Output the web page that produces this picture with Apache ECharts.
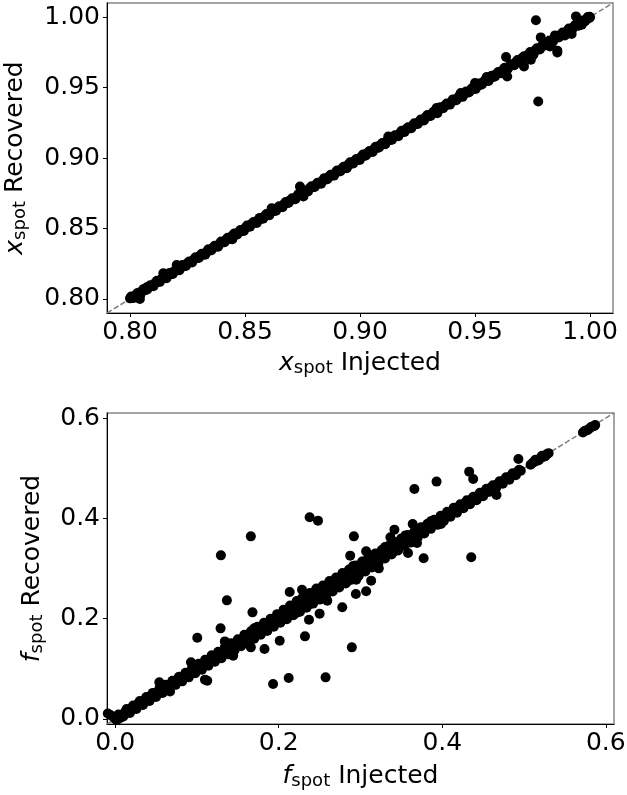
<!DOCTYPE html>
<html>
<head>
<meta charset="utf-8">
<script src="https://cdn.jsdelivr.net/npm/echarts@6/dist/echarts.min.js"></script>
<style>
  html, body { margin: 0; padding: 0; background: #fff; }
  #main { width: 627px; height: 795px; }
</style>
</head>
<body>
<div id="main"></div>
<script>
// x_spot: injected vs recovered (dense band along the 1:1 line)
var xspotBand = [
  [0.8000,0.8004],[0.8011,0.8007],[0.8026,0.8029],[0.8040,0.8036],[0.8053,0.8057],[0.8068,0.8064],
  [0.8081,0.8085],[0.8095,0.8092],[0.8109,0.8112],[0.8124,0.8120],[0.8137,0.8141],[0.8151,0.8148],
  [0.8166,0.8169],[0.8179,0.8176],[0.8193,0.8197],[0.8208,0.8204],[0.8222,0.8225],[0.8235,0.8232],
  [0.8250,0.8254],[0.8264,0.8260],[0.8277,0.8280],[0.8291,0.8288],[0.8306,0.8309],[0.8319,0.8316],
  [0.8334,0.8337],[0.8348,0.8344],[0.8361,0.8365],[0.8375,0.8372],[0.8390,0.8393],[0.8403,0.8400],
  [0.8418,0.8421],[0.8432,0.8428],[0.8445,0.8449],[0.8460,0.8456],[0.8474,0.8477],[0.8487,0.8484],
  [0.8502,0.8505],[0.8516,0.8512],[0.8529,0.8533],[0.8544,0.8540],[0.8558,0.8561],[0.8571,0.8568],
  [0.8586,0.8589],[0.8600,0.8596],[0.8613,0.8617],[0.8628,0.8624],[0.8642,0.8645],[0.8655,0.8652],
  [0.8670,0.8673],[0.8684,0.8680],[0.8697,0.8701],[0.8712,0.8708],[0.8726,0.8729],[0.8739,0.8736],
  [0.8754,0.8757],[0.8768,0.8764],[0.8781,0.8785],[0.8796,0.8792],[0.8810,0.8813],[0.8823,0.8820],
  [0.8838,0.8841],[0.8852,0.8848],[0.8865,0.8869],[0.8880,0.8876],[0.8894,0.8897],[0.8907,0.8904],
  [0.8922,0.8925],[0.8936,0.8932],[0.8949,0.8953],[0.8964,0.8960],[0.8978,0.8981],[0.8991,0.8988],
  [0.9006,0.9009],[0.9020,0.9016],[0.9033,0.9037],[0.9048,0.9044],[0.9062,0.9065],[0.9075,0.9072],
  [0.9090,0.9093],[0.9104,0.9100],[0.9117,0.9121],[0.9132,0.9128],[0.9146,0.9149],[0.9159,0.9156],
  [0.9174,0.9177],[0.9188,0.9184],[0.9201,0.9205],[0.9216,0.9212],[0.9230,0.9233],[0.9243,0.9240],
  [0.9258,0.9261],[0.9272,0.9268],[0.9285,0.9289],[0.9300,0.9296],[0.9314,0.9317],[0.9327,0.9324],
  [0.9342,0.9345],[0.9356,0.9352],[0.9369,0.9373],[0.9384,0.9380],[0.9398,0.9401],[0.9411,0.9408],
  [0.9426,0.9429],[0.9440,0.9436],[0.9453,0.9457],[0.9468,0.9464],[0.9482,0.9485],[0.9495,0.9492],
  [0.9510,0.9513],[0.9524,0.9520],[0.9537,0.9541],[0.9552,0.9548],[0.9566,0.9569],[0.9579,0.9575],
  [0.9594,0.9597],[0.9608,0.9603],[0.9621,0.9625],[0.9636,0.9631],[0.9650,0.9653],[0.9663,0.9659],
  [0.9678,0.9681],[0.9692,0.9687],[0.9705,0.9709],[0.9720,0.9715],[0.9734,0.9737],[0.9747,0.9742],
  [0.9762,0.9765],[0.9776,0.9771],[0.9789,0.9793],[0.9804,0.9799],[0.9818,0.9821],[0.9831,0.9826],
  [0.9846,0.9849],[0.9860,0.9855],[0.9873,0.9877],[0.9888,0.9883],[0.9902,0.9905],[0.9915,0.9911],
  [0.9930,0.9933],[0.9944,0.9940],[0.9957,0.9961],[0.9972,0.9968],[0.9986,0.9989],[0.9995,0.9992],
  [1.0000,0.9998]
];
var xspotBand2 = [
  [0.8005,0.8017],[0.8019,0.8008],[0.8033,0.8042],[0.8046,0.8033],[0.8060,0.8071],[0.8075,0.8067],
  [0.8088,0.8097],[0.8102,0.8090],[0.8117,0.8129],[0.8130,0.8121],[0.8144,0.8153],[0.8159,0.8146],
  [0.8172,0.8183],[0.8186,0.8177],[0.8201,0.8210],[0.8215,0.8203],[0.8228,0.8240],[0.8243,0.8234],
  [0.8257,0.8266],[0.8270,0.8258],[0.8285,0.8296],[0.8299,0.8290],[0.8312,0.8321],[0.8327,0.8314],
  [0.8341,0.8352],[0.8354,0.8346],[0.8369,0.8378],[0.8383,0.8371],[0.8396,0.8408],[0.8411,0.8402],
  [0.8425,0.8434],[0.8438,0.8426],[0.8453,0.8464],[0.8467,0.8458],[0.8480,0.8489],[0.8495,0.8482],
  [0.8509,0.8521],[0.8522,0.8513],[0.8537,0.8546],[0.8551,0.8539],[0.8564,0.8575],[0.8579,0.8570],
  [0.8593,0.8602],[0.8606,0.8594],[0.8621,0.8633],[0.8635,0.8626],[0.8648,0.8657],[0.8663,0.8650],
  [0.8677,0.8688],[0.8690,0.8682],[0.8705,0.8714],[0.8719,0.8707],[0.8732,0.8744],[0.8747,0.8738],
  [0.8761,0.8770],[0.8774,0.8762],[0.8789,0.8800],[0.8803,0.8794],[0.8816,0.8825],[0.8831,0.8818],
  [0.8845,0.8857],[0.8858,0.8849],[0.8873,0.8882],[0.8887,0.8875],[0.8900,0.8911],[0.8915,0.8906],
  [0.8929,0.8938],[0.8942,0.8930],[0.8957,0.8969],[0.8971,0.8962],[0.8984,0.8993],[0.8999,0.8986],
  [0.9013,0.9024],[0.9026,0.9018],[0.9041,0.9050],[0.9055,0.9043],[0.9068,0.9080],[0.9083,0.9074],
  [0.9097,0.9106],[0.9110,0.9098],[0.9125,0.9136],[0.9139,0.9130],[0.9152,0.9161],[0.9167,0.9154],
  [0.9181,0.9193],[0.9194,0.9185],[0.9209,0.9218],[0.9223,0.9211],[0.9236,0.9247],[0.9251,0.9242],
  [0.9265,0.9274],[0.9278,0.9266],[0.9293,0.9305],[0.9307,0.9298],[0.9320,0.9329],[0.9335,0.9322],
  [0.9349,0.9360],[0.9362,0.9354],[0.9377,0.9386],[0.9391,0.9379],[0.9404,0.9416],[0.9419,0.9410],
  [0.9433,0.9442],[0.9446,0.9434],[0.9461,0.9472],[0.9475,0.9466],[0.9488,0.9497],[0.9503,0.9490],
  [0.9517,0.9529],[0.9530,0.9521],[0.9545,0.9554],[0.9559,0.9547],[0.9572,0.9583],[0.9587,0.9578],
  [0.9601,0.9610],[0.9614,0.9602],[0.9629,0.9641],[0.9643,0.9634],[0.9656,0.9665],[0.9671,0.9658],
  [0.9685,0.9696],[0.9698,0.9690],[0.9713,0.9722],[0.9727,0.9715],[0.9740,0.9752],[0.9755,0.9746],
  [0.9769,0.9778],[0.9782,0.9770],[0.9797,0.9808],[0.9811,0.9802],[0.9824,0.9833],[0.9839,0.9826],
  [0.9853,0.9865],[0.9866,0.9857],[0.9881,0.9890],[0.9895,0.9883],[0.9908,0.9919],[0.9923,0.9914],
  [0.9937,0.9946],[0.9950,0.9938],[0.9965,0.9976],[0.9979,0.9970],[0.9992,1.0000]
];
var xspotOutliers = [
  [0.9765,0.9977],[0.9775,0.9401],[0.9786,0.9856],[0.9635,0.9717],[0.9640,0.9579],[0.9713,0.9650],
  [0.9858,0.9749],[0.9858,0.9762],[0.9826,0.9792],[0.9939,1.0005],[0.9990,0.9999],[0.9998,1.0003],
  [0.9964,0.9946],[0.9920,0.9880],[0.9891,0.9870],[0.9848,0.9870],[0.9754,0.9733],[0.9743,0.9697],
  [0.9551,0.9575],[0.9500,0.9532],[0.9438,0.9461],[0.9333,0.9354],[0.9336,0.9318],[0.9123,0.9153],
  [0.8739,0.8798],[0.8754,0.8727],[0.8942,0.8928],[0.8616,0.8644],[0.8445,0.8424],[0.8203,0.8241],
  [0.8217,0.8223],[0.8145,0.8182],[0.8043,0.8000],[0.8073,0.8083]
];

// f_spot: injected vs recovered
var fspotBand = [
  [-0.009,0.011],[-0.006,0.008],[-0.003,0.005],[0.000,0.000],[0.002,-0.002],[0.005,0.001],[0.008,0.004],
  [0.012,0.014],[0.016,0.013],[0.020,0.022],[0.024,0.021],[0.028,0.031],[0.032,0.029],[0.036,0.038],
  [0.040,0.037],[0.044,0.047],[0.048,0.045],[0.052,0.054],[0.056,0.053],[0.060,0.063],[0.064,0.061],
  [0.068,0.070],[0.072,0.069],[0.076,0.079],[0.080,0.077],[0.084,0.086],[0.088,0.085],[0.092,0.095],
  [0.096,0.093],[0.100,0.103],[0.104,0.100],[0.108,0.111],[0.112,0.109],[0.116,0.119],[0.120,0.116],
  [0.124,0.127],[0.128,0.124],[0.132,0.136],[0.136,0.133],[0.140,0.144],[0.144,0.140],[0.148,0.151],
  [0.152,0.148],[0.156,0.160],[0.160,0.156],[0.164,0.168],[0.168,0.163],[0.172,0.176],[0.176,0.172],
  [0.180,0.185],[0.184,0.180],[0.188,0.192],[0.192,0.187],[0.196,0.201],[0.200,0.195],[0.204,0.209],
  [0.208,0.203],[0.212,0.217],[0.216,0.211],[0.220,0.226],[0.224,0.219],[0.228,0.234],[0.232,0.226],
  [0.236,0.242],[0.240,0.234],[0.244,0.250],[0.248,0.242],[0.252,0.258],[0.256,0.250],[0.260,0.266],
  [0.264,0.258],[0.268,0.274],[0.272,0.266],[0.276,0.281],[0.280,0.274],[0.284,0.290],[0.288,0.282],
  [0.292,0.298],[0.296,0.290],[0.300,0.305],[0.304,0.298],[0.308,0.313],[0.312,0.306],[0.316,0.321],
  [0.320,0.315],[0.324,0.328],[0.328,0.323],[0.332,0.337],[0.336,0.331],[0.340,0.344],[0.344,0.339],
  [0.348,0.352],[0.352,0.348],[0.356,0.360],[0.360,0.356],[0.364,0.368],[0.368,0.364],[0.372,0.375],
  [0.376,0.373],[0.380,0.384],[0.384,0.381],[0.388,0.391],[0.392,0.389],[0.396,0.399],[0.400,0.397],
  [0.404,0.407],[0.408,0.405],[0.412,0.415],[0.416,0.413],[0.420,0.423],[0.424,0.421],[0.428,0.431],
  [0.432,0.429],[0.436,0.438],[0.440,0.437],[0.444,0.446],[0.448,0.445],[0.452,0.454],[0.456,0.453],
  [0.460,0.462],[0.464,0.461],[0.468,0.469],[0.472,0.471],[0.476,0.477],[0.480,0.479],[0.484,0.485],
  [0.488,0.487],[0.492,0.493],[0.496,0.495],[0.508,0.507],[0.512,0.512],[0.516,0.515],[0.520,0.520],
  [0.524,0.523],[0.528,0.528],[0.572,0.571],[0.576,0.575],[0.580,0.579],[0.584,0.583],[0.587,0.586],
  [0.170,0.181],[0.186,0.176],[0.205,0.198],[0.214,0.225],[0.222,0.212],[0.228,0.240],[0.238,0.229],
  [0.246,0.260],[0.253,0.246],[0.262,0.272],[0.270,0.262],[0.278,0.289],[0.286,0.276],[0.291,0.305],
  [0.297,0.284],[0.304,0.314],[0.318,0.309],[0.330,0.343],[0.340,0.333],[0.355,0.366],[0.362,0.352],
  [0.386,0.394],[0.396,0.390]
];
var fspotBand2 = [
  [0.004,0.009],[0.010,0.005],[0.014,0.020],[0.018,0.012],[0.022,0.027],[0.026,0.020],[0.030,0.036],
  [0.034,0.028],[0.038,0.044],[0.042,0.036],[0.046,0.052],[0.050,0.044],[0.054,0.060],[0.058,0.052],
  [0.062,0.068],[0.066,0.060],[0.070,0.076],[0.074,0.068],[0.078,0.084],[0.082,0.075],[0.086,0.092],
  [0.090,0.083],[0.094,0.101],[0.098,0.091],[0.102,0.110],[0.106,0.098],[0.110,0.118],[0.114,0.106],
  [0.118,0.127],[0.122,0.114],[0.126,0.134],[0.130,0.121],[0.134,0.143],[0.138,0.129],[0.142,0.151],
  [0.146,0.137],[0.150,0.159],[0.154,0.145],[0.158,0.168],[0.162,0.153],[0.166,0.175],[0.170,0.160],
  [0.174,0.184],[0.178,0.168],[0.182,0.192],[0.186,0.176],[0.190,0.200],[0.194,0.184],[0.198,0.209],
  [0.202,0.192],[0.206,0.218],[0.210,0.199],[0.214,0.226],[0.218,0.207],[0.222,0.235],[0.226,0.214],
  [0.230,0.242],[0.234,0.222],[0.238,0.251],[0.242,0.230],[0.246,0.258],[0.250,0.238],[0.254,0.266],
  [0.258,0.246],[0.262,0.275],[0.266,0.254],[0.270,0.282],[0.274,0.262],[0.278,0.291],[0.282,0.270],
  [0.286,0.298],[0.290,0.278],[0.294,0.306],[0.298,0.286],[0.302,0.314],[0.306,0.294],[0.310,0.322],
  [0.314,0.302],[0.318,0.330],[0.322,0.311],[0.326,0.337],[0.330,0.320],[0.334,0.345],[0.338,0.328],
  [0.342,0.353],[0.346,0.336],[0.350,0.360],[0.354,0.345],[0.358,0.367],[0.362,0.354],[0.366,0.374],
  [0.370,0.362],[0.374,0.382],[0.378,0.370],[0.382,0.389],[0.386,0.379],[0.390,0.397],[0.394,0.387],
  [0.398,0.405],[0.402,0.395],[0.406,0.413],[0.410,0.403],[0.414,0.421],[0.418,0.411],[0.422,0.428],
  [0.426,0.420],[0.430,0.436],[0.434,0.428],[0.438,0.443],[0.442,0.436],[0.446,0.451],[0.450,0.444],
  [0.454,0.459],[0.458,0.453],[0.462,0.466],[0.466,0.461],[0.470,0.474],[0.474,0.469],[0.478,0.482],
  [0.482,0.477],[0.486,0.490],[0.490,0.486],[0.494,0.497],[0.510,0.510],[0.514,0.517],[0.518,0.516],
  [0.522,0.525],[0.526,0.524],[0.530,0.530],[0.574,0.574],[0.578,0.576],[0.582,0.582],[0.586,0.584]
];
var fspotOutliers = [
  [0.2378,0.4020],[0.2480,0.3954],[0.1659,0.3641],[0.1293,0.3262],[0.3659,0.4586],[0.3930,0.4732],
  [0.4329,0.4931],[0.4378,0.4785],[0.4931,0.5184],[0.4663,0.4466],[0.4354,0.3223],[0.3772,0.3203],
  [0.2919,0.3641],[0.2874,0.3256],[0.3069,0.3342],[0.3224,0.3003],[0.2943,0.2492],[0.3069,0.2545],
  [0.3130,0.2758],[0.2777,0.2226],[0.2894,0.1428],[0.2573,0.0830],[0.2122,0.0817],[0.1931,0.0698],
  [0.2321,0.1647],[0.2370,0.1980],[0.2500,0.2100],[0.2012,0.1561],[0.1826,0.1396],[0.1443,0.1262],
  [0.1679,0.2126],[0.1366,0.2365],[0.1289,0.1807],[0.1004,0.1621],[0.1341,0.1547],[0.0927,0.1129],
  [0.1098,0.0784],[0.1126,0.0764],[0.0540,0.0730],[0.0671,0.0550],[0.1659,0.1428],[0.2134,0.2532],
  [0.2285,0.2578],[0.2594,0.2359],[0.2947,0.2778],[0.3638,0.3888],[0.3415,0.3775],[0.3366,0.3621],
  [0.3581,0.3310],[0.3691,0.3510],[0.3984,0.3888],[0.4390,0.4373]
];

var xspotRange = [0.79, 1.01];
var fspotRange = [-0.01, 0.61];
var xspotTicks = [0.80, 0.85, 0.90, 0.95, 1.00];
var fspotTicks = [0.0, 0.2, 0.4, 0.6];

var FONT = 'DejaVu Sans';
var nameRich = {
  it: { fontFamily: FONT, fontSize: 25, fontStyle: 'italic', color: '#000' },
  sub: { fontFamily: FONT, fontSize: 18, color: '#000', padding: [10, 0, 0, 0] },
  t: { fontFamily: FONT, fontSize: 25, color: '#000' }
};

function makeAxis(gridIndex, range, ticks, digits, name, gap, isY) {
  return {
    type: 'value',
    gridIndex: gridIndex,
    min: range[0],
    max: range[1],
    name: name,
    nameLocation: 'middle',
    nameGap: gap,
    nameRotate: isY ? 90 : 0,
    nameTextStyle: { fontFamily: FONT, fontSize: 25, color: '#000', rich: nameRich },
    axisLine: { show: true, onZero: false, lineStyle: { color: '#000', width: 1 } },
    axisTick: { show: true, inside: false, length: 4, lineStyle: { color: '#000', width: 1 }, customValues: ticks },
    axisLabel: {
      show: true, margin: 7, color: '#000', fontFamily: FONT, fontSize: 25,
      customValues: ticks,
      formatter: function (v) { return v.toFixed(digits); }
    },
    splitLine: { show: false }
  };
}

function refLine(range, idx) {
  return {
    type: 'line', xAxisIndex: idx, yAxisIndex: idx,
    data: [[range[0], range[0]], [range[1], range[1]]],
    symbol: 'none', silent: true, z: 1,
    lineStyle: { color: '#808080', width: 1.5, type: [5.5, 2.4] }
  };
}

function dots(data, idx) {
  return {
    type: 'scatter', xAxisIndex: idx, yAxisIndex: idx,
    data: data, symbolSize: 10, clip: true, z: 2,
    itemStyle: { color: '#000', opacity: 1 }
  };
}

var chart = echarts.init(document.getElementById('main'), null, { renderer: 'canvas' });
var option = {
  backgroundColor: '#fff',
  animation: false,
  grid: [
    { left: 107, top: 3, width: 506, height: 310, show: true, borderColor: '#888', borderWidth: 1.5, outerBoundsMode: 'none' },
    { left: 107, top: 413, width: 507, height: 311, show: true, borderColor: '#888', borderWidth: 1.5, outerBoundsMode: 'none' }
  ],
  xAxis: [
    makeAxis(0, xspotRange, xspotTicks, 2, '{it|x}{sub|spot}{t| Injected}', 36, false),
    makeAxis(1, fspotRange, fspotTicks, 1, '{it|f}{sub|spot}{t| Injected}', 38, false)
  ],
  yAxis: [
    makeAxis(0, xspotRange, xspotTicks, 2, '{it|x}{sub|spot}{t| Recovered}', 78, true),
    makeAxis(1, fspotRange, fspotTicks, 1, '{it|f}{sub|spot}{t| Recovered}', 61, true)
  ],
  series: [
    refLine(xspotRange, 0),
    dots(xspotBand.concat(xspotBand2, xspotOutliers), 0),
    refLine(fspotRange, 1),
    dots(fspotBand.concat(fspotBand2, fspotOutliers), 1)
  ]
};
chart.setOption(option);
</script>
</body>
</html>
